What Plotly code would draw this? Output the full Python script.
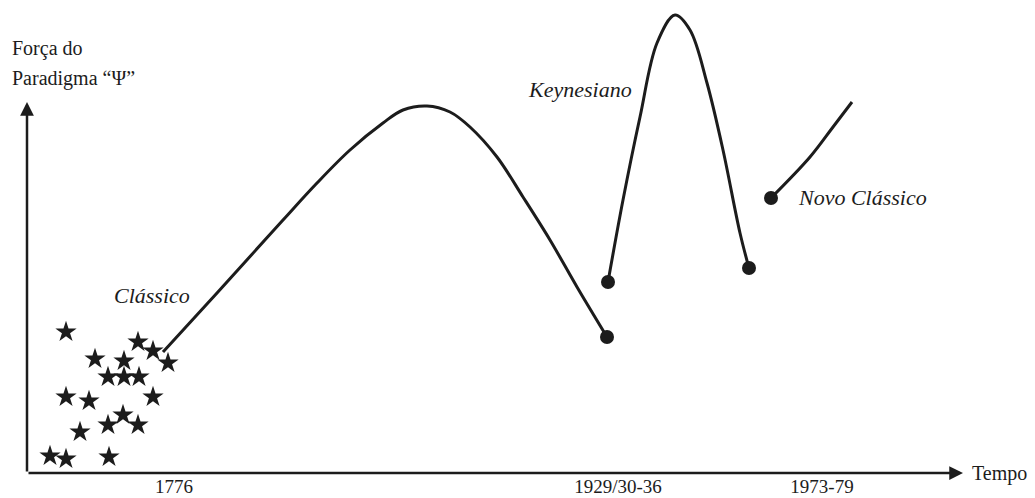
import plotly.graph_objects as go

# --- data (x: time position, y: strength of paradigm) ---
stars_x = [39, 111, 126, 141, 68, 97, 81, 97, 112, 39, 62, 126, 96, 81, 111, 53, 23, 39, 82]
stars_y = [141, 131, 122, 110, 114, 112, 96, 96, 96, 76, 72, 76, 58, 48, 48, 41, 17, 14, 16]

classico_x = [136, 190, 256, 290, 323, 356, 376, 400, 423, 443, 470, 496, 523, 550, 580]
classico_y = [121, 180, 253, 290, 323, 350, 363, 367, 361, 346, 316, 276, 233, 186, 136]

keynes_x = [581, 596, 613, 630, 648, 663, 680, 696, 713, 722]
keynes_y = [191, 273, 356, 430, 458, 443, 390, 323, 240, 205]

novo_x = [744, 783, 806, 825]
novo_y = [275, 316, 346, 371]

tick_vals = [147, 591, 795]
tick_text = ["1776", "1929/30-36", "1973-79"]

INK = "#1c1c1c"
SERIF = "Liberation Serif"

fig = go.Figure()

line_style = dict(color=INK, width=3, shape="spline", smoothing=1.0)

fig.add_trace(go.Scatter(x=classico_x, y=classico_y, mode="lines", line=line_style, hoverinfo="skip"))
fig.add_trace(go.Scatter(x=keynes_x, y=keynes_y, mode="lines", line=line_style, hoverinfo="skip"))
fig.add_trace(go.Scatter(x=novo_x, y=novo_y, mode="lines", line=line_style, hoverinfo="skip"))

# endpoint dots
dot_x = [classico_x[-1], keynes_x[0], keynes_x[-1], novo_x[0]]
dot_y = [classico_y[-1], keynes_y[0], keynes_y[-1], novo_y[0]]
fig.add_trace(go.Scatter(x=dot_x, y=dot_y, mode="markers",
                         marker=dict(color=INK, size=14), hoverinfo="skip"))

# stars
fig.add_trace(go.Scatter(x=stars_x, y=stars_y, mode="markers",
                         marker=dict(symbol="star", color=INK, size=16, line=dict(width=0)),
                         hoverinfo="skip"))

# axes with arrows
fig.add_annotation(x=0, y=371, ax=0, ay=0, xref="x", yref="y", axref="x", ayref="y",
                   showarrow=True, arrowhead=2, arrowsize=1.1, arrowwidth=2.5,
                   arrowcolor=INK, text="")
fig.add_annotation(x=936, y=0, ax=0, ay=0, xref="x", yref="y", axref="x", ayref="y",
                   showarrow=True, arrowhead=2, arrowsize=1.1, arrowwidth=2.5,
                   arrowcolor=INK, text="")

txt = dict(family=SERIF, size=20, color=INK)
it = dict(family=SERIF, size=22, color=INK)

fig.add_annotation(x=-17, y=425, text="Força do", showarrow=False, xanchor="left", yanchor="middle", font=txt)
fig.add_annotation(x=-17, y=395, text="Paradigma “Ψ”", showarrow=False, xanchor="left", yanchor="middle", font=txt)
fig.add_annotation(x=943, y=0, text="Tempo", showarrow=False, xanchor="left", yanchor="middle", font=txt)
fig.add_annotation(x=125, y=178, text="<i>Clássico</i>", showarrow=False, font=it)
fig.add_annotation(x=553, y=384, text="<i>Keynesiano</i>", showarrow=False, font=it)
fig.add_annotation(x=769, y=276, text="<i>Novo Clássico</i>", showarrow=False, xanchor="left", font=it)

fig.update_layout(
    width=1035, height=498,
    margin=dict(l=0, r=0, t=0, b=0),
    paper_bgcolor="white", plot_bgcolor="white",
    showlegend=False,
    xaxis=dict(range=[-27, 1008], showgrid=False, zeroline=False, showline=False,
               anchor="free", position=25 / 498,
               tickvals=tick_vals, ticktext=tick_text, ticks="",
               tickfont=dict(family=SERIF, size=19, color=INK),
               automargin=False, fixedrange=True),
    yaxis=dict(range=[-25, 473], showgrid=False, zeroline=False, showline=False,
               showticklabels=False, automargin=False, fixedrange=True),
)

fig.write_html("out.html", config={"displayModeBar": False},
               post_script="document.body.style.margin='0';")
